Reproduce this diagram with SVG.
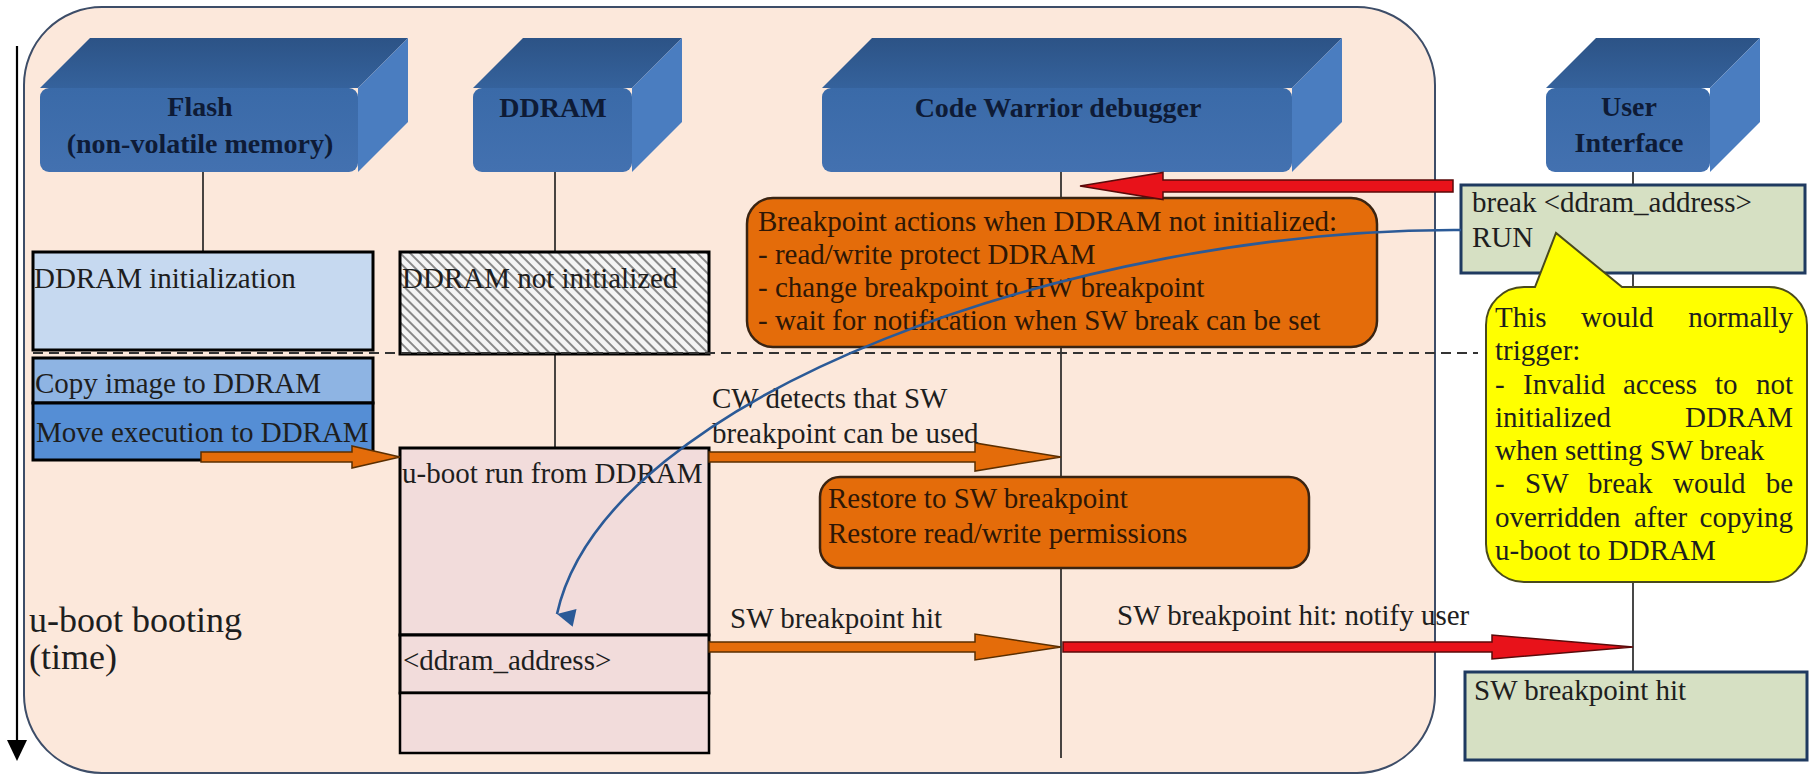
<svg xmlns="http://www.w3.org/2000/svg" width="1810" height="775" viewBox="0 0 1810 775">
<style>
.t{font-family:"Liberation Serif","Times New Roman",serif;font-size:29px;fill:#1e1e1e}
.h{font-family:"Liberation Serif","Times New Roman",serif;font-weight:bold;font-size:28px;fill:#0e1b36;text-anchor:middle}
.ot{fill:#2e1706}
.life{stroke:#1a1a1a;stroke-width:1.6;fill:none}
.box{stroke:#000;stroke-width:3}
.top{fill:url(#gTop)}
.front{fill:url(#gFront)}
.side{fill:#4a7dc0}
.orange{fill:#e46c0a;stroke:#5a2e00;stroke-width:1.5}
.red{fill:#e8121a;stroke:#5a0a0a;stroke-width:1.5}
.green{fill:#d6e0c3;stroke:#1f3a60;stroke-width:3}
</style>
<defs>
<linearGradient id="gTop" x1="0" y1="0" x2="0" y2="1">
<stop offset="0" stop-color="#2c5386"/><stop offset="1" stop-color="#35629c"/>
</linearGradient>
<linearGradient id="gFront" x1="0" y1="0" x2="0" y2="1">
<stop offset="0" stop-color="#3a6aa8"/><stop offset="1" stop-color="#4371b0"/>
</linearGradient>
<pattern id="hatch" width="7" height="7" patternUnits="userSpaceOnUse" patternTransform="rotate(45)">
<rect width="7" height="7" fill="#f4f4f4"/>
<line x1="0" y1="1" x2="7" y2="1" stroke="#6e6e6e" stroke-width="1.6"/>
</pattern>
<marker id="blueHead" markerWidth="18" markerHeight="20" refX="10" refY="20" orient="auto-start-reverse" markerUnits="userSpaceOnUse" viewBox="0 0 20 20">
<path d="M0,0 L20,0 L10,20 Z" fill="#2b5a97"/>
</marker>
</defs>

<rect x="0" y="0" width="1810" height="775" fill="#ffffff"/>
<g id="panel">
<rect x="24" y="7" width="1411" height="766" rx="78" ry="78" fill="#fce8db" stroke="#3d4d68" stroke-width="2"/>
</g>

<g id="time-axis">
<line x1="17" y1="46" x2="17" y2="742" stroke="#000" stroke-width="2.2"/>
<path d="M7,740 L27,740 L17,761 Z" fill="#000"/>
<text class="t" x="29" y="632" style="font-size:36px">u-boot booting</text>
<text class="t" x="29" y="669" style="font-size:36px">(time)</text>
</g>

<g id="lifelines">
<line class="life" x1="203" y1="172" x2="203" y2="252"/>
<line class="life" x1="555" y1="172" x2="555" y2="252"/>
<line class="life" x1="555" y1="355" x2="555" y2="448"/>
<line class="life" x1="1061" y1="172" x2="1061" y2="758"/>
<line class="life" x1="1633" y1="172" x2="1633" y2="672"/>
</g>

<g id="hdr-flash">
<polygon class="top" points="40,88 90,38 408,38 358,88"/>
<polygon class="side" points="358,88 408,38 408,122 358,172"/>
<rect class="front" x="40" y="88" width="318" height="84" rx="9"/>
<text class="h" x="200" y="116">Flash</text>
<text class="h" x="200" y="153">(non-volatile memory)</text>
</g>
<g id="hdr-ddram">
<polygon class="top" points="473,88 523,38 682,38 632,88"/>
<polygon class="side" points="632,88 682,38 682,122 632,172"/>
<rect class="front" x="473" y="88" width="159" height="84" rx="9"/>
<text class="h" x="553" y="117">DDRAM</text>
</g>
<g id="hdr-cw">
<polygon class="top" points="822,88 872,38 1342,38 1292,88"/>
<polygon class="side" points="1292,88 1342,38 1342,122 1292,172"/>
<rect class="front" x="822" y="88" width="470" height="84" rx="9"/>
<text class="h" x="1058" y="117">Code Warrior debugger</text>
</g>
<g id="hdr-ui">
<polygon class="top" points="1546,88 1596,38 1760,38 1710,88"/>
<polygon class="side" points="1710,88 1760,38 1760,122 1710,172"/>
<rect class="front" x="1546" y="88" width="164" height="84" rx="9"/>
<text class="h" x="1629" y="116">User</text>
<text class="h" x="1629" y="152">Interface</text>
</g>

<g id="flash-init">
<rect class="box" x="33" y="252" width="340" height="98" fill="#c6d9f0"/>
<text class="t" x="34" y="288">DDRAM initialization</text>
</g>
<g id="flash-copy">
<rect class="box" x="33" y="358" width="340" height="45" fill="#8eb4e3"/>
<text class="t" x="35" y="393">Copy image to DDRAM</text>
</g>
<g id="flash-move">
<rect class="box" x="33" y="403" width="340" height="57" fill="#558ed5"/>
<text class="t" x="36" y="442">Move execution to DDRAM</text>
</g>
<g id="ddram-notinit">
<rect class="box" x="400" y="252" width="309" height="102" fill="url(#hatch)"/>
<text class="t" x="402" y="288">DDRAM not initialized</text>
</g>
<g id="ddram-uboot">
<rect class="box" x="400" y="448" width="309" height="187" fill="#f2dcdb"/>
<text class="t" x="402" y="483">u-boot run from DDRAM</text>
</g>
<g id="ddram-address">
<rect class="box" x="400" y="635" width="309" height="58" fill="#f2dcdb"/>
<text class="t" x="403" y="670">&lt;ddram_address&gt;</text>
</g>
<g id="ddram-rest">
<rect x="400" y="693" width="309" height="60" fill="#f2dcdb" stroke="#000" stroke-width="2.5"/>
</g>

<g id="divider">
<line x1="33" y1="353" x2="1478" y2="353" stroke="#333" stroke-width="2" stroke-dasharray="10,6"/>
</g>

<g id="cw-actions">
<rect x="747" y="198" width="630" height="149" rx="26" fill="#e46c0a" stroke="#3a2412" stroke-width="2.5"/>
<text class="t ot" x="758" y="231">Breakpoint actions when DDRAM not initialized:</text>
<text class="t ot" x="758" y="264">- read/write protect DDRAM</text>
<text class="t ot" x="758" y="297">- change breakpoint to HW breakpoint</text>
<text class="t ot" x="758" y="330">- wait for notification when SW break can be set</text>
</g>
<g id="cw-restore">
<rect x="820" y="477" width="489" height="91" rx="20" fill="#e46c0a" stroke="#3a2412" stroke-width="2.5"/>
<text class="t ot" x="828" y="508">Restore to SW breakpoint</text>
<text class="t ot" x="828" y="543">Restore read/write permissions</text>
</g>

<g id="ui-break">
<rect class="green" x="1461" y="185" width="344" height="88"/>
<text class="t" x="1472" y="212">break &lt;ddram_address&gt;</text>
<text class="t" x="1472" y="247">RUN</text>
</g>
<g id="ui-hit">
<rect class="green" x="1465" y="672" width="342" height="88"/>
<text class="t" x="1474" y="700">SW breakpoint hit</text>
</g>

<g id="connectors">
<polygon class="orange" points="201,452 352,452 352,446 400,457 352,468 352,462 201,462"/>
<polygon class="orange" points="709,452 975,452 975,443 1061,457 975,471 975,462 709,462"/>
<polygon class="orange" points="709,642 975,642 975,634 1061,647 975,660 975,652 709,652"/>
<polygon class="red" points="1080,186 1163,172.5 1163,180 1453,180 1453,192 1163,192 1163,199.5"/>
<polygon class="red" points="1063,642 1492,642 1492,635 1633,647 1492,659 1492,652 1063,652"/>
<text class="t" x="712" y="408">CW detects that SW</text>
<text class="t" x="712" y="443">breakpoint can be used</text>
<text class="t" x="730" y="628">SW breakpoint hit</text>
<text class="t" x="1117" y="625">SW breakpoint hit: notify user</text>
<path d="M1461,230 C1080,228 605,395 557,614" fill="none" stroke="#2b5a97" stroke-width="2.6" marker-end="url(#blueHead)"/>
</g>

<g id="ui-note">
<path d="M1524,287 L1535,287 L1556,233 L1622,287 L1769,287 A38,38 0 0 1 1807,325 L1807,544 A38,38 0 0 1 1769,582 L1524,582 A38,38 0 0 1 1486,544 L1486,325 A38,38 0 0 1 1524,287 Z" fill="#ffff00" stroke="#4a4a1c" stroke-width="2"/>
<text class="t" y="327"><tspan x="1495">This</tspan><tspan x="1581">would</tspan><tspan x="1793" text-anchor="end">normally</tspan></text>
<text class="t" x="1495" y="360">trigger:</text>
<text class="t" y="394"><tspan x="1495">-</tspan><tspan x="1523">Invalid</tspan><tspan x="1623">access</tspan><tspan x="1715">to</tspan><tspan x="1793" text-anchor="end">not</tspan></text>
<text class="t" y="427"><tspan x="1495">initialized</tspan><tspan x="1793" text-anchor="end">DDRAM</tspan></text>
<text class="t" x="1495" y="460">when setting SW break</text>
<text class="t" y="493"><tspan x="1495">-</tspan><tspan x="1525">SW</tspan><tspan x="1588">break</tspan><tspan x="1673">would</tspan><tspan x="1793" text-anchor="end">be</tspan></text>
<text class="t" y="527"><tspan x="1495">overridden</tspan><tspan x="1634">after</tspan><tspan x="1793" text-anchor="end">copying</tspan></text>
<text class="t" x="1495" y="560">u-boot to DDRAM</text>
</g>
</svg>
